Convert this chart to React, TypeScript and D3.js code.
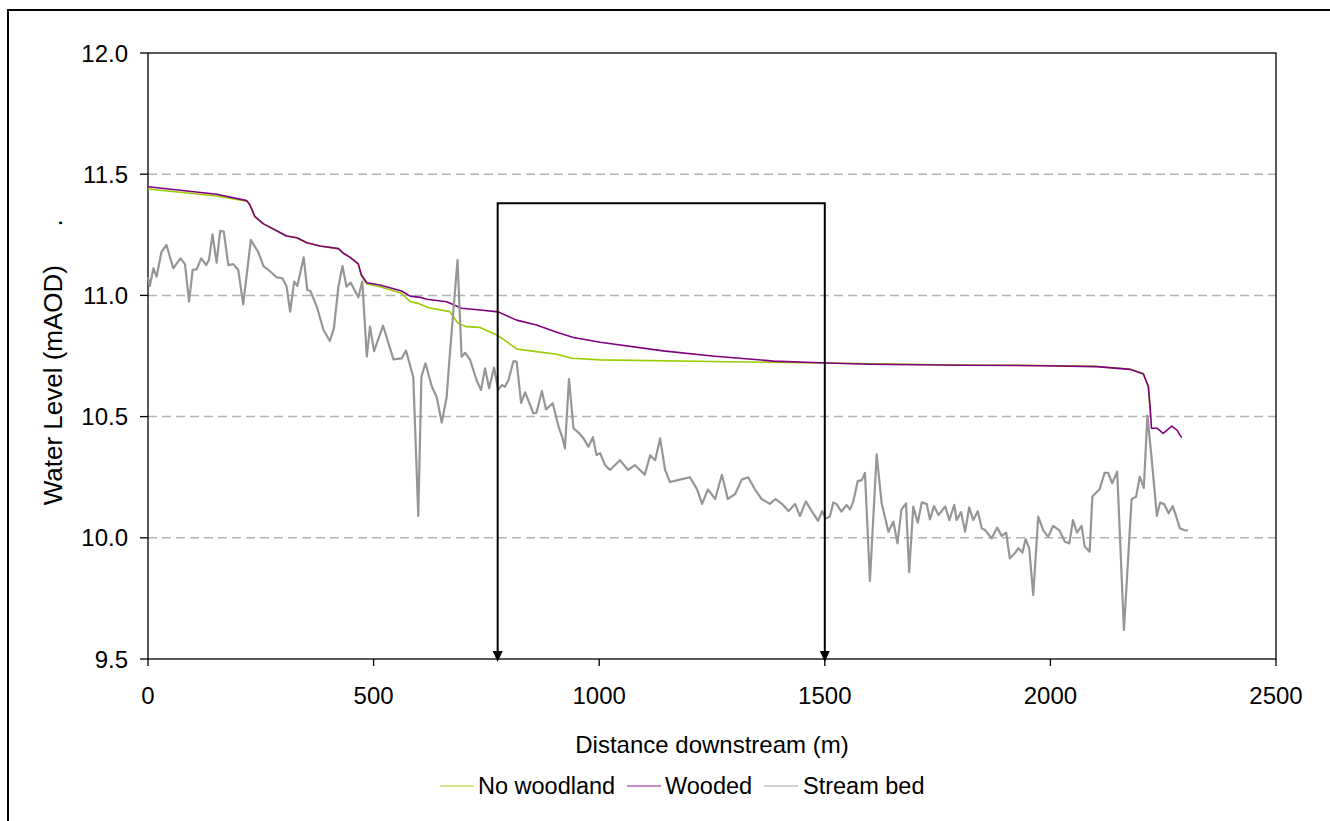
import React from "react";
import * as d3 from "d3";

const xTicks = [0, 500, 1000, 1500, 2000, 2500];
const yTicks = [9.5, 10.0, 10.5, 11.0, 11.5, 12.0];
const gridValues = [10.0, 10.5, 11.0, 11.5];

const noWoodX = [0, 152, 219, 226, 237, 256, 285, 307, 330, 352, 381, 422, 433, 448, 466, 473, 485, 514, 562, 581, 599, 622, 669, 687, 706, 736, 773, 795, 817, 861, 906, 939, 1002, 1250, 1504, 1800, 1977, 2103, 2176, 2206, 2217, 2222];
const noWoodY = [11.439, 11.41, 11.389, 11.372, 11.325, 11.295, 11.267, 11.245, 11.238, 11.217, 11.204, 11.193, 11.174, 11.157, 11.13, 11.08, 11.047, 11.036, 11.009, 10.974, 10.967, 10.949, 10.933, 10.885, 10.871, 10.868, 10.837, 10.809, 10.779, 10.768, 10.757, 10.741, 10.734, 10.727, 10.721, 10.713, 10.711, 10.707, 10.696, 10.678, 10.625, 10.5];

const woodedX = [0, 56, 152, 219, 226, 237, 256, 285, 307, 330, 352, 381, 422, 433, 448, 466, 473, 485, 514, 562, 581, 603, 618, 662, 695, 736, 776, 817, 861, 906, 943, 1002, 1142, 1250, 1386, 1504, 1600, 1800, 1977, 2103, 2176, 2206, 2217, 2221, 2224, 2236, 2250, 2269, 2280, 2291];
const woodedY = [11.448, 11.437, 11.417, 11.391, 11.373, 11.325, 11.295, 11.267, 11.245, 11.238, 11.217, 11.204, 11.193, 11.174, 11.157, 11.13, 11.084, 11.052, 11.043, 11.018, 10.997, 10.992, 10.984, 10.974, 10.947, 10.94, 10.932, 10.898, 10.878, 10.848, 10.826, 10.807, 10.771, 10.75, 10.729, 10.721, 10.716, 10.712, 10.71, 10.706, 10.695, 10.676, 10.624, 10.541, 10.452, 10.452, 10.431, 10.461, 10.445, 10.413];

const bedX = [0, 4, 12, 19, 30, 41, 56, 72, 82, 91, 99, 108, 118, 129, 135, 143, 152, 160, 168, 178, 189, 200, 211, 228, 244, 256, 267, 285, 298, 307, 315, 324, 331, 345, 353, 360, 374, 389, 403, 412, 422, 431, 440, 449, 466, 475, 485, 492, 501, 521, 544, 562, 572, 588, 599, 606, 615, 629, 640, 651, 662, 668, 686, 695, 703, 714, 728, 738, 747, 756, 767, 776, 784, 791, 799, 810, 817, 827, 836, 854, 861, 873, 882, 897, 910, 919, 924, 933, 943, 954, 965, 976, 986, 994, 1002, 1013, 1024, 1046, 1064, 1079, 1101, 1113, 1124, 1135, 1146, 1157, 1179, 1201, 1217, 1228, 1241, 1257, 1272, 1285, 1301, 1316, 1330, 1345, 1360, 1378, 1391, 1405, 1420, 1434, 1445, 1458, 1471, 1485, 1494, 1502, 1511, 1519, 1526, 1537, 1548, 1556, 1563, 1573, 1582, 1589, 1600, 1615, 1626, 1641, 1652, 1661, 1670, 1680, 1687, 1696, 1706, 1715, 1726, 1733, 1742, 1752, 1767, 1776, 1787, 1792, 1802, 1811, 1820, 1829, 1839, 1848, 1855, 1870, 1882, 1892, 1902, 1910, 1921, 1929, 1938, 1945, 1953, 1962, 1973, 1984, 1995, 2006, 2020, 2032, 2042, 2050, 2059, 2069, 2076, 2087, 2093, 2109, 2120, 2128, 2137, 2148, 2163, 2180, 2190, 2198, 2207, 2215, 2224, 2236, 2243, 2252, 2262, 2271, 2279, 2287, 2296, 2305];
const bedY = [11.075, 11.039, 11.112, 11.077, 11.18, 11.208, 11.112, 11.153, 11.129, 10.974, 11.105, 11.108, 11.153, 11.125, 11.146, 11.252, 11.135, 11.266, 11.263, 11.125, 11.129, 11.105, 10.963, 11.229, 11.18, 11.121, 11.105, 11.075, 11.07, 11.039, 10.933, 11.057, 11.039, 11.157, 11.022, 11.018, 10.954, 10.857, 10.812, 10.864, 11.036, 11.121, 11.036, 11.053, 10.992, 11.057, 10.747, 10.871, 10.77, 10.875, 10.736, 10.74, 10.772, 10.662, 10.09, 10.665, 10.72, 10.624, 10.58, 10.475, 10.582, 10.734, 11.146, 10.747, 10.763, 10.734, 10.651, 10.61, 10.699, 10.617, 10.702, 10.61, 10.63, 10.623, 10.651, 10.729, 10.727, 10.557, 10.6, 10.513, 10.516, 10.606, 10.53, 10.555, 10.459, 10.41, 10.369, 10.655, 10.452, 10.434, 10.411, 10.376, 10.415, 10.342, 10.349, 10.3, 10.28, 10.32, 10.28, 10.3, 10.26, 10.34, 10.32, 10.41, 10.28, 10.23, 10.24, 10.25, 10.2, 10.14, 10.2, 10.16, 10.26, 10.16, 10.18, 10.24, 10.25, 10.2, 10.16, 10.14, 10.16, 10.14, 10.11, 10.14, 10.09, 10.15, 10.11, 10.07, 10.11, 10.08, 10.087, 10.146, 10.139, 10.108, 10.135, 10.117, 10.149, 10.234, 10.238, 10.268, 9.822, 10.344, 10.142, 10.025, 10.067, 9.977, 10.117, 10.142, 9.858, 10.129, 10.062, 10.146, 10.139, 10.076, 10.131, 10.094, 10.129, 10.073, 10.136, 10.073, 10.106, 10.025, 10.126, 10.073, 10.11, 10.039, 10.032, 9.998, 10.042, 10.008, 10.021, 9.915, 9.936, 9.957, 9.939, 9.994, 9.957, 9.764, 10.087, 10.032, 10.004, 10.049, 10.031, 9.984, 9.977, 10.073, 10.021, 10.049, 9.964, 9.943, 10.17, 10.2, 10.268, 10.268, 10.225, 10.273, 9.62, 10.159, 10.17, 10.252, 10.206, 10.504, 10.335, 10.09, 10.145, 10.139, 10.101, 10.131, 10.087, 10.039, 10.032, 10.03];

const bracketStart = 775;
const bracketEnd = 1500;
const bracketTop = 11.38;

const seriesNames = ["No woodland", "Wooded", "Stream bed"];
const seriesColors = ["#99cc00", "#800080", "#969696"];

const W = 1330;
const H = 821;
const L = 148, R = 1276, T = 53, B = 659;
const FONT = "'Liberation Sans', Arial, sans-serif";

export default function App() {
  const x = d3.scaleLinear().domain([0, 2500]).range([L, R]);
  const y = d3.scaleLinear().domain([9.5, 12.0]).range([B, T]);
  const line = d3.line<[number, number]>().x((d) => x(d[0])).y((d) => y(d[1]));
  const zip = (a: number[], b: number[]) => a.map((v, i) => [v, b[i]] as [number, number]);
  const series = [zip(noWoodX, noWoodY), zip(woodedX, woodedY), zip(bedX, bedY)];
  const widths = [1.6, 1.6, 2.2];

  const bx1 = x(bracketStart), bx2 = x(bracketEnd), by = y(bracketTop);
  const legendItems = [
    { lx: 440, tx: 478 },
    { lx: 627, tx: 665 },
    { lx: 764, tx: 803 },
  ];

  return (
    <svg width={W} height={H} style={{ position: "fixed", left: 0, top: 0, background: "#fff" }} fontFamily={FONT}>
      <rect x={0} y={0} width={W} height={H} fill="#fff" />
      <path d={`M8,${H} V10 H${W}`} fill="none" stroke="#000" strokeWidth={2} />
      {gridValues.map((v) => (
        <line key={v} x1={L} x2={R} y1={y(v)} y2={y(v)} stroke="#b3b3b3" strokeWidth={1.5} strokeDasharray="9,5" />
      ))}
      <rect x={L} y={T} width={R - L} height={B - T} fill="none" stroke="#000" strokeWidth={1.3} />
      {yTicks.map((v) => (
        <g key={v}>
          <line x1={L - 8} x2={L} y1={y(v)} y2={y(v)} stroke="#000" strokeWidth={1.3} />
          <text x={128} y={y(v) + 8.5} textAnchor="end" fontSize={24} fill="#000">{v.toFixed(1)}</text>
        </g>
      ))}
      {xTicks.map((v) => (
        <g key={v}>
          <line x1={x(v)} x2={x(v)} y1={B} y2={B + 7} stroke="#000" strokeWidth={1.3} />
          <text x={x(v)} y={704} textAnchor="middle" fontSize={24} fill="#000">{v}</text>
        </g>
      ))}
      {series.map((s, i) => (
        <path key={i} d={line(s) || ""} fill="none" stroke={seriesColors[i]} strokeWidth={widths[i]} strokeLinejoin="round" />
      ))}
      <path d={`M${bx1},${B - 8} V${by} H${bx2} V${B - 8}`} fill="none" stroke="#000" strokeWidth={2} />
      <path d={`M${bx1 - 5},${B - 8} L${bx1 + 5},${B - 8} L${bx1},${B + 3} Z`} fill="#000" />
      <path d={`M${bx2 - 5},${B - 8} L${bx2 + 5},${B - 8} L${bx2},${B + 3} Z`} fill="#000" />
      <text x={(L + R) / 2} y={753} textAnchor="middle" fontSize={24} fill="#000">Distance downstream (m)</text>
      <text transform={`translate(62,265) rotate(-90)`} textAnchor="end" fontSize={26} fill="#000">Water Level (mAOD)</text>
      <text transform={`translate(62,223) rotate(-90)`} textAnchor="middle" fontSize={26} fill="#000">.</text>
      {legendItems.map((it, i) => (
        <g key={i}>
          <line x1={it.lx} x2={it.lx + 34} y1={786} y2={786} stroke={seriesColors[i]} strokeWidth={1.5} strokeOpacity={0.6} />
          <text x={it.tx} y={794} fontSize={23.5} fill="#000">{seriesNames[i]}</text>
        </g>
      ))}
    </svg>
  );
}
